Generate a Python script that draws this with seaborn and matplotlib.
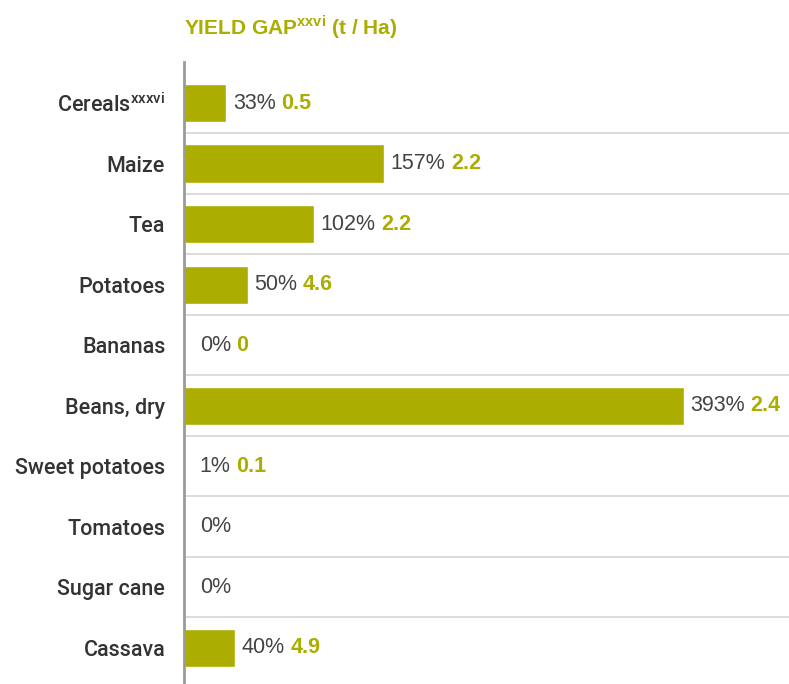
import matplotlib
matplotlib.use("Agg")
import matplotlib.pyplot as plt
import seaborn as sns
import pandas as pd

# data
crops = ["Cereals$^{\\mathrm{xxxvi}}$", "Maize", "Tea", "Potatoes", "Bananas",
         "Beans, dry", "Sweet potatoes", "Tomatoes", "Sugar cane", "Cassava"]
gap_pct = [33, 157, 102, 50, 0, 393, 1, 0, 0, 40]
gap_tha = ["0.5", "2.2", "2.2", "4.6", "0", "2.4", "0.1", "", "", "4.9"]

olive = "#ABAD00"
dark = "#444444"

sns.set_theme(style="white")
plt.rcParams["font.family"] = ["Liberation Sans", "DejaVu Sans"]
plt.rcParams["mathtext.fontset"] = "custom"
plt.rcParams["mathtext.rm"] = "Roboto:medium"
plt.rcParams["mathtext.bf"] = "Liberation Sans:bold"

df = pd.DataFrame({"crop": crops, "pct": gap_pct, "tha": gap_tha})

fig = plt.figure(figsize=(7.89, 6.84), dpi=100)
ax = fig.add_axes([184 / 789, 0, 1 - 184 / 789, 1 - 62 / 684])

sns.barplot(data=df, x="pct", y="crop", color=olive, saturation=1,
            width=0.63, orient="h", ax=ax)

ax.set_xlim(0, 476)
ax.set_ylim(9.6, -0.678)

# row separators
for i in range(len(crops) - 1):
    ax.axhline(i + 0.5, color="#d8d8d8", lw=1.3, zorder=0)

for i, row in df.iterrows():
    t1 = ax.annotate(f"{row.pct}%", xy=(max(row.pct, 7), i), xytext=(5, 0),
                     textcoords="offset points", va="center", ha="left",
                     fontsize=15.5, color=dark)
    if row.tha:
        ax.annotate(row.tha, xy=(1, 0), xycoords=t1, xytext=(4, 0),
                    textcoords="offset points", va="bottom", ha="left",
                    fontsize=15.5, color=olive, fontweight="bold")

ax.set_xlabel("")
ax.set_ylabel("")
ax.set_xticks([])
ax.tick_params(axis="y", length=0, pad=13.5, labelsize=15.5, labelcolor="#333333")
for lab in ax.get_yticklabels():
    lab.set_fontfamily(["Roboto", "DejaVu Sans"])
    lab.set_fontweight("medium")
for s in ["top", "right", "bottom"]:
    ax.spines[s].set_visible(False)
ax.spines["left"].set_color("#9a9a9a")
ax.spines["left"].set_linewidth(2)

fig.text(184 / 789, 1 - 27 / 684, "YIELD GAP$^{\\mathbf{xxvi}}$ (t / Ha)",
         fontsize=15, fontweight="bold", color=olive, ha="left", va="center")

fig.savefig("out.png", dpi=100)
